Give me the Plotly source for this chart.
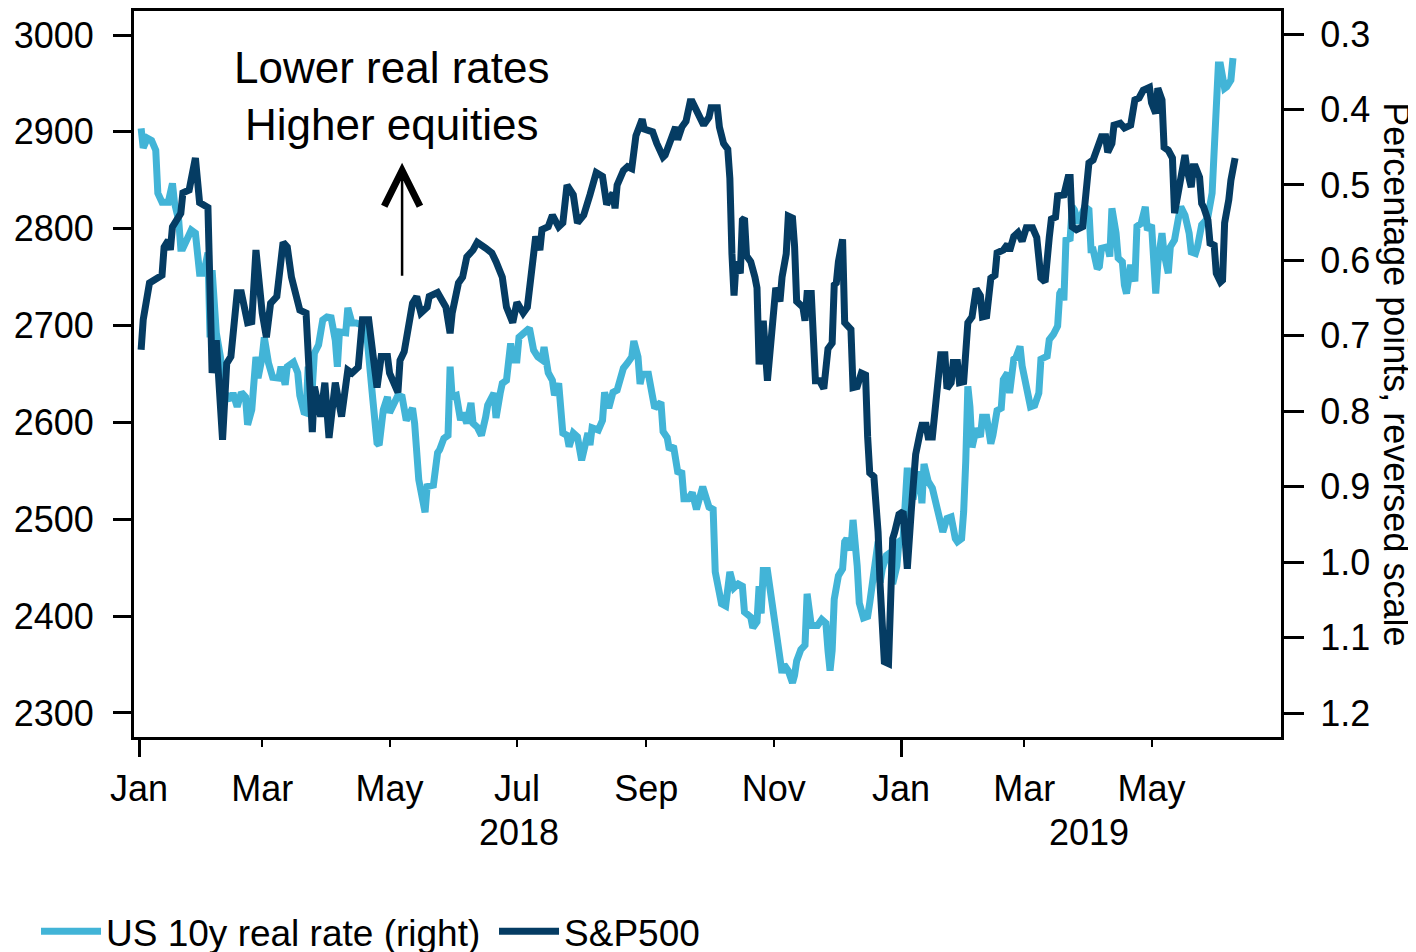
import plotly.graph_objects as go

# ---------------- data ----------------
sp_dates = [
    "2018-01-02","2018-01-03","2018-01-06","2018-01-10","2018-01-12","2018-01-13","2018-01-15","2018-01-16",
    "2018-01-17","2018-01-21","2018-01-22","2018-01-25","2018-01-28","2018-01-30","2018-02-03","2018-02-05",
    "2018-02-07","2018-02-10","2018-02-12","2018-02-14","2018-02-17","2018-02-19","2018-02-22","2018-02-24",
    "2018-02-26","2018-03-01","2018-03-03","2018-03-05","2018-03-08","2018-03-11","2018-03-13","2018-03-15",
    "2018-03-19","2018-03-22","2018-03-25","2018-03-26","2018-03-29","2018-03-31","2018-04-02","2018-04-05",
    "2018-04-08","2018-04-11","2018-04-13","2018-04-16","2018-04-18","2018-04-21","2018-04-23","2018-04-25",
    "2018-04-27","2018-04-30","2018-05-01","2018-05-05","2018-05-06","2018-05-08","2018-05-12","2018-05-14",
    "2018-05-16","2018-05-19","2018-05-20","2018-05-24","2018-05-28","2018-05-30","2018-05-31","2018-06-03",
    "2018-06-05","2018-06-07","2018-06-10","2018-06-12","2018-06-16","2018-06-19","2018-06-21","2018-06-23",
    "2018-06-24","2018-06-26","2018-06-29","2018-07-01","2018-07-04","2018-07-06","2018-07-08","2018-07-10",
    "2018-07-12","2018-07-13","2018-07-16","2018-07-18","2018-07-21","2018-07-23","2018-07-25","2018-07-28",
    "2018-07-30","2018-08-02","2018-08-05","2018-08-08","2018-08-11","2018-08-12","2018-08-13","2018-08-16",
    "2018-08-17","2018-08-18","2018-08-21","2018-08-23","2018-08-25","2018-08-27","2018-08-30","2018-08-31",
    "2018-09-04","2018-09-06","2018-09-09","2018-09-10","2018-09-12","2018-09-15","2018-09-16","2018-09-18",
    "2018-09-20","2018-09-22","2018-09-23","2018-09-26","2018-09-28","2018-09-29","2018-10-01","2018-10-02",
    "2018-10-05","2018-10-06","2018-10-08","2018-10-10","2018-10-11","2018-10-12","2018-10-13","2018-10-14",
    "2018-10-16","2018-10-17","2018-10-18","2018-10-19","2018-10-21","2018-10-23","2018-10-24","2018-10-25",
    "2018-10-27","2018-10-29","2018-10-31","2018-11-02","2018-11-04","2018-11-05","2018-11-07","2018-11-08",
    "2018-11-10","2018-11-11","2018-11-12","2018-11-15","2018-11-16","2018-11-17","2018-11-19","2018-11-21",
    "2018-11-23","2018-11-25","2018-11-27","2018-11-29","2018-11-30","2018-12-01","2018-12-02","2018-12-04",
    "2018-12-05","2018-12-08","2018-12-09","2018-12-11","2018-12-13","2018-12-15","2018-12-16","2018-12-17",
    "2018-12-19","2018-12-21","2018-12-22","2018-12-24","2018-12-26","2018-12-27","2018-12-28","2018-12-29",
    "2018-12-31","2019-01-02","2019-01-03","2019-01-04","2019-01-06","2019-01-08","2019-01-10","2019-01-11",
    "2019-01-13","2019-01-14","2019-01-16","2019-01-17","2019-01-18","2019-01-19","2019-01-20","2019-01-22",
    "2019-01-23","2019-01-25","2019-01-26","2019-01-28","2019-01-29","2019-01-31","2019-02-01","2019-02-02",
    "2019-02-04","2019-02-05","2019-02-06","2019-02-08","2019-02-09","2019-02-11","2019-02-13","2019-02-15",
    "2019-02-16","2019-02-19","2019-02-21","2019-02-22","2019-02-24","2019-02-26","2019-02-28","2019-03-02",
    "2019-03-05","2019-03-07","2019-03-09","2019-03-11","2019-03-12","2019-03-13","2019-03-14","2019-03-16",
    "2019-03-17","2019-03-20","2019-03-22","2019-03-23","2019-03-24","2019-03-26","2019-03-29","2019-03-30",
    "2019-04-01","2019-04-03","2019-04-05","2019-04-07","2019-04-09","2019-04-10","2019-04-12","2019-04-13",
    "2019-04-16","2019-04-18","2019-04-21","2019-04-23","2019-04-25","2019-04-27","2019-04-30","2019-05-01",
    "2019-05-03","2019-05-04","2019-05-06","2019-05-07","2019-05-09","2019-05-11","2019-05-12","2019-05-15",
    "2019-05-17","2019-05-18","2019-05-20","2019-05-21","2019-05-22","2019-05-24","2019-05-25","2019-05-26",
    "2019-05-28","2019-05-29","2019-05-31","2019-06-01","2019-06-03","2019-06-04","2019-06-05","2019-06-07",
    "2019-06-08","2019-06-10",
]
sp_values = [
    2675,2706,2744,2750,2752,2781,2788,2778,
    2802,2816,2837,2840,2873,2827,2822,2651,
    2685,2582,2661,2668,2734,2734,2703,2704,
    2778,2713,2688,2723,2730,2786,2781,2750,
    2716,2713,2590,2637,2606,2641,2584,2641,
    2606,2654,2651,2657,2706,2706,2672,2636,
    2668,2668,2651,2631,2664,2673,2723,2730,
    2713,2719,2730,2734,2719,2692,2713,2744,
    2750,2771,2778,2786,2780,2775,2766,2754,
    2750,2719,2703,2724,2713,2719,2761,2792,
    2778,2799,2802,2814,2802,2806,2845,2835,
    2806,2814,2835,2858,2854,2831,2825,2837,
    2821,2845,2860,2864,2862,2896,2913,2903,
    2900,2888,2874,2876,2888,2905,2892,2905,
    2911,2931,2931,2917,2909,2909,2915,2925,
    2925,2905,2888,2882,2852,2774,2731,2766,
    2754,2809,2811,2772,2766,2750,2739,2660,
    2705,2643,2688,2739,2725,2750,2774,2813,
    2811,2782,2725,2719,2705,2733,2733,2643,
    2643,2635,2676,2682,2742,2744,2766,2789,
    2703,2696,2636,2637,2651,2649,2585,2548,
    2544,2487,2431,2353,2351,2435,2480,2487,
    2505,2508,2478,2449,2512,2567,2588,2597,
    2597,2585,2585,2609,2620,2637,2670,2670,
    2635,2641,2662,2662,2641,2642,2679,2703,
    2709,2731,2738,2731,2709,2710,2749,2752,
    2775,2778,2784,2777,2792,2796,2787,2801,
    2801,2791,2749,2745,2784,2791,2810,2812,
    2834,2835,2853,2853,2802,2799,2802,2822,
    2868,2871,2881,2895,2895,2879,2888,2907,
    2909,2904,2907,2933,2935,2943,2946,2930,
    2919,2945,2933,2884,2881,2873,2816,2850,
    2876,2861,2843,2864,2864,2853,2826,2822,
    2809,2785,2783,2754,2745,2747,2806,2830,
    2850,2873,
]

rr_dates = [
    "2018-01-02","2018-01-03","2018-01-05","2018-01-07","2018-01-09","2018-01-10","2018-01-12","2018-01-15",
    "2018-01-17","2018-01-18","2018-01-20","2018-01-21","2018-01-22","2018-01-24","2018-01-26","2018-01-28",
    "2018-01-29","2018-01-30","2018-02-01","2018-02-03","2018-02-04","2018-02-05","2018-02-07","2018-02-09",
    "2018-02-11","2018-02-14","2018-02-15","2018-02-17","2018-02-19","2018-02-21","2018-02-22","2018-02-24",
    "2018-02-26","2018-02-27","2018-03-01","2018-03-02","2018-03-04","2018-03-06","2018-03-09","2018-03-10",
    "2018-03-12","2018-03-13","2018-03-16","2018-03-18","2018-03-19","2018-03-21","2018-03-22","2018-03-23",
    "2018-03-25","2018-03-26","2018-03-28","2018-03-30","2018-04-01","2018-04-03","2018-04-05","2018-04-06",
    "2018-04-07","2018-04-10","2018-04-11","2018-04-13","2018-04-15","2018-04-18","2018-04-20","2018-04-22",
    "2018-04-23","2018-04-25","2018-04-26","2018-04-28","2018-04-30","2018-05-01","2018-05-03","2018-05-05",
    "2018-05-07","2018-05-09","2018-05-12","2018-05-13","2018-05-15","2018-05-17","2018-05-18","2018-05-19",
    "2018-05-22","2018-05-24","2018-05-25","2018-05-27","2018-05-29","2018-05-30","2018-05-31","2018-06-02",
    "2018-06-04","2018-06-05","2018-06-07","2018-06-09","2018-06-10","2018-06-12","2018-06-14","2018-06-16",
    "2018-06-17","2018-06-20","2018-06-21","2018-06-23","2018-06-24","2018-06-26","2018-06-28","2018-06-29",
    "2018-07-01","2018-07-02","2018-07-05","2018-07-07","2018-07-09","2018-07-11","2018-07-13","2018-07-14",
    "2018-07-16","2018-07-18","2018-07-19","2018-07-21","2018-07-23","2018-07-25","2018-07-26","2018-07-28",
    "2018-07-30","2018-08-01","2018-08-04","2018-08-05","2018-08-06","2018-08-09","2018-08-11","2018-08-12",
    "2018-08-14","2018-08-16","2018-08-18","2018-08-19","2018-08-21","2018-08-23","2018-08-25","2018-08-26",
    "2018-08-28","2018-08-29","2018-08-30","2018-09-02","2018-09-03","2018-09-04","2018-09-05","2018-09-08",
    "2018-09-09","2018-09-11","2018-09-12","2018-09-14","2018-09-16","2018-09-18","2018-09-19","2018-09-21",
    "2018-09-23","2018-09-25","2018-09-27","2018-09-28","2018-10-01","2018-10-03","2018-10-04","2018-10-05",
    "2018-10-07","2018-10-09","2018-10-11","2018-10-13","2018-10-15","2018-10-17","2018-10-18","2018-10-21",
    "2018-10-22","2018-10-24","2018-10-25","2018-10-26","2018-10-27","2018-10-29","2018-10-31","2018-11-02",
    "2018-11-03","2018-11-05","2018-11-06","2018-11-08","2018-11-10","2018-11-11","2018-11-12","2018-11-14",
    "2018-11-16","2018-11-17","2018-11-19","2018-11-22","2018-11-24","2018-11-26","2018-11-27","2018-11-28",
    "2018-11-29","2018-11-30","2018-12-02","2018-12-04","2018-12-05","2018-12-06","2018-12-08","2018-12-09",
    "2018-12-11","2018-12-12","2018-12-14","2018-12-16","2018-12-17","2018-12-19","2018-12-21","2018-12-22",
    "2018-12-23","2018-12-25","2018-12-27","2018-12-28","2018-12-30","2018-12-31","2019-01-02","2019-01-04",
    "2019-01-05","2019-01-07","2019-01-09","2019-01-10","2019-01-11","2019-01-12","2019-01-14","2019-01-16",
    "2019-01-18","2019-01-20","2019-01-21","2019-01-23","2019-01-25","2019-01-27","2019-01-28","2019-01-30",
    "2019-01-31","2019-02-01","2019-02-02","2019-02-03","2019-02-04","2019-02-06","2019-02-08","2019-02-09",
    "2019-02-11","2019-02-13","2019-02-14","2019-02-16","2019-02-18","2019-02-19","2019-02-21","2019-02-22",
    "2019-02-24","2019-02-25","2019-02-27","2019-02-28","2019-03-02","2019-03-04","2019-03-06","2019-03-08",
    "2019-03-09","2019-03-12","2019-03-13","2019-03-15","2019-03-17","2019-03-18","2019-03-19","2019-03-20",
    "2019-03-21","2019-03-23","2019-03-24","2019-03-25","2019-03-27","2019-03-29","2019-03-30","2019-04-01",
    "2019-04-02","2019-04-03","2019-04-05","2019-04-06","2019-04-07","2019-04-10","2019-04-11","2019-04-12",
    "2019-04-14","2019-04-15","2019-04-17","2019-04-18","2019-04-19","2019-04-21","2019-04-23","2019-04-24",
    "2019-04-26","2019-04-28","2019-04-29","2019-05-01","2019-05-03","2019-05-04","2019-05-06","2019-05-07",
    "2019-05-09","2019-05-10","2019-05-12","2019-05-14","2019-05-15","2019-05-17","2019-05-19","2019-05-20",
    "2019-05-22","2019-05-23","2019-05-25","2019-05-27","2019-05-28","2019-05-30","2019-05-31","2019-06-02",
    "2019-06-03","2019-06-05","2019-06-06","2019-06-08","2019-06-09",
]
rr_values = [
    0.425,0.451,0.438,0.441,0.454,0.511,0.523,0.523,
    0.498,0.524,0.547,0.584,0.584,0.573,0.560,0.564,
    0.590,0.617,0.617,0.590,0.702,0.613,0.696,0.728,
    0.776,0.785,0.776,0.794,0.775,0.781,0.818,0.798,
    0.728,0.756,0.728,0.702,0.736,0.755,0.756,0.741,
    0.765,0.741,0.735,0.749,0.779,0.801,0.802,0.741,
    0.768,0.723,0.712,0.679,0.675,0.676,0.706,0.741,
    0.695,0.696,0.663,0.683,0.683,0.686,0.696,0.776,
    0.785,0.842,0.845,0.798,0.781,0.802,0.792,0.779,
    0.781,0.812,0.796,0.816,0.891,0.914,0.934,0.900,
    0.898,0.855,0.851,0.836,0.832,0.741,0.781,0.779,
    0.812,0.802,0.816,0.789,0.816,0.821,0.832,0.808,
    0.792,0.776,0.809,0.776,0.763,0.759,0.710,0.732,
    0.732,0.702,0.696,0.690,0.719,0.728,0.732,0.715,
    0.749,0.759,0.779,0.763,0.829,0.832,0.847,0.829,
    0.834,0.865,0.829,0.845,0.822,0.825,0.812,0.775,
    0.796,0.775,0.772,0.764,0.743,0.736,0.728,0.707,
    0.728,0.764,0.751,0.751,0.770,0.780,0.796,0.788,
    0.827,0.835,0.851,0.846,0.880,0.882,0.916,0.916,
    0.908,0.930,0.903,0.900,0.927,0.930,1.013,1.024,
    1.055,1.058,1.013,1.034,1.029,1.032,1.066,1.073,
    1.087,1.079,1.032,1.068,1.011,1.011,1.053,1.079,
    1.100,1.147,1.136,1.144,1.160,1.150,1.131,1.116,
    1.110,1.042,1.084,1.084,1.076,1.081,1.117,1.144,
    1.117,1.049,1.018,1.009,0.973,0.969,0.984,0.944,
    1.005,1.054,1.074,1.072,1.054,1.018,0.973,1.027,
    1.009,0.991,0.987,1.029,1.005,0.973,0.969,0.875,
    0.913,0.913,0.884,0.884,0.922,0.870,0.893,0.902,
    0.928,0.955,0.960,0.942,0.940,0.969,0.973,0.969,
    0.933,0.866,0.767,0.794,0.848,0.823,0.834,0.808,
    0.808,0.843,0.832,0.799,0.796,0.758,0.749,0.776,
    0.731,0.729,0.714,0.740,0.767,0.794,0.792,0.776,
    0.731,0.727,0.705,0.698,0.687,0.644,0.639,0.653,
    0.573,0.571,0.529,0.533,0.551,0.536,0.529,0.533,
    0.586,0.586,0.611,0.608,0.584,0.582,0.595,0.531,
    0.564,0.597,0.602,0.633,0.644,0.606,0.628,0.555,
    0.551,0.529,0.560,0.553,0.644,0.604,0.564,0.591,
    0.617,0.582,0.573,0.542,0.529,0.540,0.564,0.589,
    0.591,0.582,0.553,0.547,0.542,0.511,0.441,0.341,
    0.341,0.372,0.370,0.361,0.332,
]

x_tick_dates = ["2018-01-01","2018-03-01","2018-05-01","2018-07-01","2018-09-01","2018-11-01",
                "2019-01-01","2019-03-01","2019-05-01"]
x_tick_labels = ["Jan","Mar","May","Jul","Sep","Nov","Jan","Mar","May"]
year_tick_dates = ["2018-01-01","2019-01-01"]
year_labels = ["2018","2019"]
year_label_dates = ["2018-07-02","2019-04-01"]
sp_ticks = [2300,2400,2500,2600,2700,2800,2900,3000]
rr_ticks = [0.3,0.4,0.5,0.6,0.7,0.8,0.9,1.0,1.1,1.2]

names = ["US 10y real rate (right)", "S&P500"]
LIGHT = "#42B4D7"
DARK = "#053C63"
FONT = "Liberation Sans, Arial, sans-serif"

x_range = ["2017-12-29 14:00", "2019-07-02"]

fig = go.Figure()
fig.add_trace(go.Scatter(x=rr_dates, y=rr_values, name=names[0], mode="lines",
                         line=dict(color=LIGHT, width=7), xaxis="x", yaxis="y"))
fig.add_trace(go.Scatter(x=sp_dates, y=sp_values, name=names[1], mode="lines",
                         line=dict(color=DARK, width=7), xaxis="x", yaxis="y2"))
# empty helper trace so the overlay x-axis (long January ticks) is drawn
fig.add_trace(go.Scatter(x=[], y=[], xaxis="x2", yaxis="y", showlegend=False, hoverinfo="skip"))

tickfont = dict(family=FONT, size=36, color="black")

fig.update_layout(
    width=1408, height=944,
    margin=dict(l=126, r=135, t=3, b=215, autoexpand=False),
    paper_bgcolor="white", plot_bgcolor="white",
    font=dict(family=FONT, size=36, color="black"),
    xaxis=dict(type="date", range=x_range, tickmode="array", tickvals=x_tick_dates,
               ticktext=x_tick_labels, ticks="outside", ticklen=7, tickwidth=2, tickcolor="black",
               showline=True, linecolor="black", linewidth=3, mirror=True, showgrid=False,
               zeroline=False, tickfont=tickfont, ticklabelstandoff=11),
    xaxis2=dict(type="date", range=x_range, overlaying="x", anchor="y", side="bottom",
                tickmode="array", tickvals=year_tick_dates, ticks="outside", ticklen=19,
                tickwidth=3, tickcolor="black", showticklabels=False, showline=False,
                showgrid=False, zeroline=False),
    yaxis=dict(side="right", range=[1.2318, 0.2695], tickmode="array", tickvals=rr_ticks,
               tickformat=".1f", ticks="outside", ticklen=20, tickwidth=3, tickcolor="black",
               showline=True, linecolor="black", linewidth=3, showgrid=False, zeroline=False,
               tickfont=tickfont, ticklabelstandoff=9),
    yaxis2=dict(overlaying="y", side="left", range=[2275.2, 3024.8], tickmode="array",
                tickvals=sp_ticks, ticks="outside", ticklen=18, tickwidth=3, tickcolor="black",
                showline=True, linecolor="black", linewidth=3, showgrid=False, zeroline=False,
                tickfont=tickfont, ticklabelstandoff=12),
    legend=dict(orientation="h", xref="container", x=0.0199, xanchor="left",
                yref="container", y=0.0215, yanchor="middle",
                font=dict(family=FONT, size=37, color="black"), itemwidth=60,
                entrywidth=383, entrywidthmode="pixels",
                bgcolor="rgba(0,0,0,0)"),
    showlegend=True,
)

annotations = []
for lbl, d in zip(year_labels, year_label_dates):
    annotations.append(dict(x=d, xref="x", y=-0.132, yref="paper", text=lbl, showarrow=False,
                            xanchor="center", yanchor="middle", font=tickfont))
annotations.append(dict(x=1.101, xref="paper", y=0.5, yref="paper",
                        text="Percentage points, reversed scale", textangle=90, showarrow=False,
                        xanchor="center", yanchor="middle", font=tickfont))
annotations.append(dict(x="2018-05-02", xref="x", y=2937, yref="y2",
                        text="Lower real rates<br>Higher equities", showarrow=False,
                        xanchor="center", yanchor="middle",
                        font=dict(family=FONT, size=44, color="black")))
annotations.append(dict(x="2018-05-07", xref="x", y=2868, yref="y2", text="",
                        showarrow=True, axref="pixel", ax=0, ayref="y2", ay=2750,
                        arrowhead=5, arrowsize=2.8, arrowwidth=2.5, arrowcolor="black",
                        standoff=0, startstandoff=0))
fig.update_layout(annotations=annotations)

fig.write_html("out.html")
